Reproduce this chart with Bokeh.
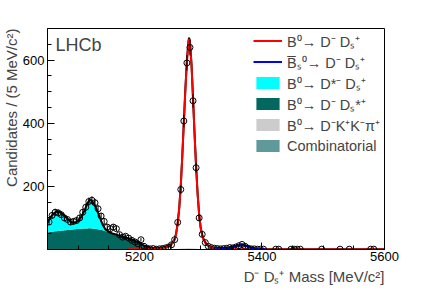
import math
import numpy as np
from bokeh.plotting import figure
from bokeh.models import FixedTicker, Label, Legend, LegendItem, Title
from bokeh.embed import file_html
from bokeh.resources import INLINE

# ---------------- data ----------------
bin_lo = 5050.0
bin_width = 5.0
counts = [
    87, 108, 118, 116, 110, 100, 95, 87, 89, 92,          # 5052.5 - 5097.5
    100, 118, 134, 152, 156, 148, 129, 106, 89, 71,       # 5102.5 - 5147.5
    66, 71, 66, 47, 39, 42, 36, 29, 24, 18,               # 5152.5 - 5197.5
    31, 10, 4, 2, 3, 1, 2, 3, 5, 8,                       # 5202.5 - 5247.5
    15, 31, 86, 190, 407, 591, 640, 471, 259, 100,        # 5252.5 - 5297.5
    48, 22, 10, 6, 4, 3, 2, 3, 4, 6,                      # 5302.5 - 5347.5
    5, 8, 12, 16, 10, 4, 2, 2, 1, 1,                      # 5352.5 - 5397.5
    1, 0, 0, 0, 1, 1, 0, 0, 0, 1,                         # 5402.5 - 5447.5
    1, 1, 1, 0, 0, 0, 0, 0, 0, 1,                         # 5452.5 - 5497.5
    0, 0, 0, 0, 0, 1, 0, 0, 1, 0,                         # 5502.5 - 5547.5
    0, 0, 0, 0, 0, 1, 1, 0, 0, 0,                         # 5552.5 - 5597.5
]

# fit components
red_mass = [5180, 5200, 5220, 5235, 5245, 5250, 5255, 5257.5, 5260, 5262.5, 5265,
            5267.5, 5270, 5272.5, 5275, 5277.5, 5280, 5281, 5282.5, 5285, 5287.5,
            5290, 5292.5, 5295, 5297.5, 5300, 5302.5, 5305, 5310, 5315, 5320, 5330,
            5340, 5360, 5380, 5400, 5600]
red_vals = [0.5, 1, 2, 4, 8, 13, 22, 32, 50, 82, 130,
            200, 295, 400, 505, 595, 655, 667, 655, 585, 478,
            365, 262, 175, 110, 68, 45, 30, 15, 8, 5, 2.5,
            1.5, 0.8, 0.5, 0.3, 0.1]

blue_mass = [5320, 5330, 5340, 5350, 5355, 5360, 5365, 5368, 5372, 5376, 5380,
             5385, 5390, 5395, 5405]
blue_vals = [0.3, 1, 2.5, 5.5, 8, 11, 13, 13.5, 12.5, 9.5, 6.5,
             3.5, 1.8, 0.8, 0.2]

cyan_mass = [5050, 5055, 5060, 5065, 5070, 5075, 5080, 5085, 5090, 5095, 5100,
             5105, 5110, 5115, 5118, 5121, 5125, 5130, 5135, 5140, 5145, 5150, 5155]
cyan_vals = [30, 47, 56, 61, 59, 52, 42, 31, 23, 21, 25,
             37, 55, 78, 88, 89, 82, 63, 40, 17, 5, 1, 0]

teal_mass = [5050, 5060, 5070, 5080, 5090, 5100, 5110, 5120, 5130, 5140, 5150,
             5160, 5170, 5180, 5190, 5200, 5205, 5210, 5215, 5220, 5230]
teal_vals = [53, 56, 58, 60, 62, 64, 65.5, 66, 64, 60, 53,
             47, 41, 35, 28, 19, 13, 7.5, 3.5, 1.2, 0]

gray_mass = [5240, 5260, 5270, 5280, 5290, 5300, 5320]
gray_vals = [0, 0.5, 2, 3, 2, 0.5, 0]

comb_mass = [5050, 5600]
comb_vals = [1.2, 0.6]

legend_labels = ["B⁰→ D⁻ Dₛ⁺", "B̅ₛ⁰→ D⁻ Dₛ⁺", "B⁰→ D*⁻ Dₛ⁺",
                 "B⁰→ D⁻ Dₛ*⁺", "B⁰→ D⁻K⁺K⁻π⁺", "Combinatorial"]
x_title = "D⁻ Dₛ⁺ Mass [MeV/c²]"
y_title = "Candidates / (5 MeV/c²)"
x_major = [5200, 5400, 5600]
y_major = [200, 400, 600]

# ---------------- derived ----------------
centers = np.array([bin_lo + bin_width * (i + 0.5) for i in range(len(counts))])
cnt = np.array(counts, dtype=float)
shown = cnt > 0
xc = centers[shown]
yc = cnt[shown]
err = np.sqrt(yc)

grid = np.arange(5050, 5600.01, 0.5)
comb_y = np.interp(grid, comb_mass, comb_vals)
gray_y = np.interp(grid, gray_mass, gray_vals, left=0, right=0)
teal_y = np.interp(grid, teal_mass, teal_vals, right=0)
cyan_y = np.interp(grid, cyan_mass, cyan_vals, right=0)
red_y = np.interp(grid, red_mass, red_vals, left=0.3)
blue_y = np.interp(grid, blue_mass, blue_vals, left=0, right=0)

s1 = comb_y
s2 = s1 + gray_y
s3 = s2 + teal_y
s4 = s3 + cyan_y
total = s4 + red_y + blue_y

FONT = "Liberation Sans"

p = figure(width=427, height=290, x_range=(5050, 5600), y_range=(0, 700),
           output_backend="svg", toolbar_location=None,
           min_border_left=47, min_border_right=43, min_border_top=28,
           min_border_bottom=41)
p.grid.visible = False
p.outline_line_color = "black"
p.outline_line_width = 1
p.background_fill_color = "white"

for ax, ticks, minors in ((p.xaxis, x_major, [5050 + 50 * i for i in range(12)]),
                          (p.yaxis, y_major, [50 * i for i in range(1, 14)])):
    ax.ticker = FixedTicker(ticks=ticks, minor_ticks=minors)
    ax.major_tick_in = 7
    ax.major_tick_out = 0
    ax.minor_tick_in = 4
    ax.minor_tick_out = 0
    ax.axis_line_color = "black"
    ax.major_tick_line_color = "black"
    ax.minor_tick_line_color = "black"
    ax.major_label_text_font = FONT
    ax.major_label_text_font_size = "13px"
    ax.major_label_text_color = "black"
p.xaxis.major_label_standoff = 2
p.yaxis.major_label_standoff = 3

# stacked areas
r_comb = p.varea(x=grid, y1=np.zeros_like(grid), y2=s1, fill_color="#5f9999")
r_gray = p.varea(x=grid, y1=s1, y2=s2, fill_color="#cccccc")
r_teal = p.varea(x=grid, y1=s2, y2=s3, fill_color="#02675f")
r_cyan = p.varea(x=grid, y1=s3, y2=s4, fill_color="#00ffff")

# curves
p.line(grid, total, line_color="black", line_width=2)
rm = grid >= 5180
r_red = p.line(grid[rm], red_y[rm], line_color="#ff0000", line_width=2)
bm = (grid >= 5320) & (grid <= 5405)
r_blue = p.line(grid[bm], blue_y[bm], line_color="#0000ff", line_width=2)

# data
p.segment(x0=xc, y0=yc - err, x1=xc, y1=yc + err, line_color="black", line_width=1)
p.scatter(xc, yc, marker="circle", size=6, fill_alpha=0, line_color="black", line_width=1)

legend = Legend(items=[LegendItem(label=legend_labels[0], renderers=[r_red]),
                       LegendItem(label=legend_labels[1], renderers=[r_blue]),
                       LegendItem(label=legend_labels[2], renderers=[r_cyan]),
                       LegendItem(label=legend_labels[3], renderers=[r_teal]),
                       LegendItem(label=legend_labels[4], renderers=[r_gray]),
                       LegendItem(label=legend_labels[5], renderers=[r_comb])],
                location=(206, 93), orientation="vertical", padding=0, margin=0,
                spacing=0, glyph_width=29, glyph_height=15, label_height=21,
                label_standoff=5, label_text_font=FONT, label_text_font_size="14.5px",
                border_line_color=None, background_fill_alpha=0)
p.add_layout(legend)

p.add_layout(Label(x=5063, y=648, text="LHCb", text_font=FONT, text_font_size="18px",
                   text_baseline="middle"))

p.add_layout(Title(text=x_title, align="right", text_font=FONT, text_font_size="15px",
                   text_font_style="normal", standoff=4, offset=0), "below")
p.add_layout(Title(text=y_title, align="right", text_font=FONT, text_font_size="15px",
                   text_font_style="normal", standoff=0, offset=0), "left")

open("out.html", "w").write(file_html(p, INLINE))
